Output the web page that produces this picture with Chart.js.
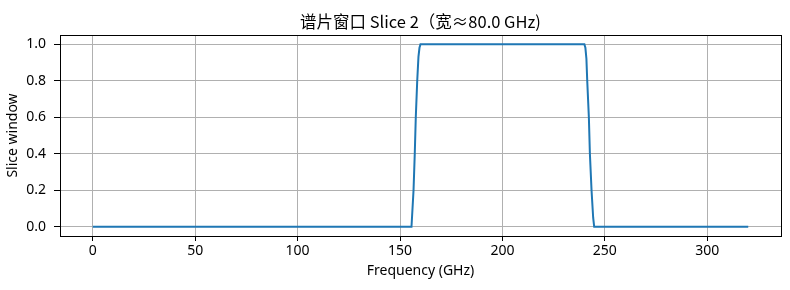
<!DOCTYPE html>
<html>
<head>
<meta charset="utf-8">
<script src="https://cdn.jsdelivr.net/npm/chart.js@4/dist/chart.umd.min.js"></script>
<style>
  html, body { margin: 0; padding: 0; background: #fff; }
  #wrap { width: 790px; height: 290px; position: relative; }
</style>
</head>
<body>
<div id="wrap"><canvas id="c" width="790" height="290"></canvas></div>
<script>
// Data
const freqGHz = [0, 155.6, 156.6, 157.2, 157.7, 158.4, 159.0, 159.5, 160.0, 240.0, 240.5, 241.0, 241.4, 242.2, 242.7, 243.5, 244.3, 244.8, 320];
const sliceWindow = [0, 0, 0.2, 0.4, 0.6, 0.8, 0.93, 0.98, 1.0, 1.0, 0.98, 0.92, 0.8, 0.6, 0.4, 0.2, 0.05, 0, 0];
const xTicks = [0, 50, 100, 150, 200, 250, 300];
const yTicks = [0.0, 0.2, 0.4, 0.6, 0.8, 1.0];
const chartTitle = '谱片窗口 Slice 2（宽≈80.0 GHz)';
const xLabel = 'Frequency (GHz)';
const yLabel = 'Slice window';

const points = freqGHz.map((f, i) => ({ x: f, y: sliceWindow[i] }));
const tickFont = { family: '"Noto Sans", "DejaVu Sans", sans-serif', size: 14 };
const labelFont = { family: '"Noto Sans", "DejaVu Sans", sans-serif', size: 14 };

const titlePlugin = {
  id: 'centeredTitle',
  afterDraw(chart) {
    const ctx = chart.ctx;
    const a = chart.chartArea;
    ctx.save();
    ctx.fillStyle = '#000000';
    ctx.font = '16.5px "Noto Sans CJK SC", "Noto Sans", sans-serif';
    ctx.textAlign = 'center';
    ctx.textBaseline = 'middle';
    ctx.fillText(chartTitle, (a.left + a.right) / 2, 22);
    ctx.restore();
  }
};

const frameAxis = (pos) => ({
  type: 'linear',
  position: pos,
  display: true,
  ticks: { display: false },
  grid: { display: true, drawOnChartArea: false, drawTicks: false },
  border: { display: true, color: '#000', width: 1 }
});

new Chart(document.getElementById('c'), {
  type: 'line',
  data: {
    datasets: [{
      data: points,
      borderColor: '#1f77b4',
      backgroundColor: '#1f77b4',
      borderWidth: 2,
      pointRadius: 0,
      tension: 0,
      fill: false
    }]
  },
  options: {
    responsive: false,
    animation: false,
    devicePixelRatio: 1,
    layout: { padding: { top: 35, right: 9, left: 0, bottom: 0 } },
    plugins: { legend: { display: false }, tooltip: { enabled: false }, title: { display: false } },
    scales: {
      x: {
        type: 'linear',
        min: -16,
        max: 336,
        afterBuildTicks: s => { s.ticks = xTicks.map(v => ({ value: v })); },
        afterFit: s => { s.height = 54; },
        ticks: { font: tickFont, color: '#000', padding: 2, maxRotation: 0, autoSkip: false,
                 callback: v => String(v) },
        grid: { color: '#b0b0b0', lineWidth: 1, drawTicks: true, tickLength: 5, tickColor: '#000' },
        border: { display: true, color: '#000', width: 1 },
        title: { display: true, text: xLabel, font: labelFont, color: '#000', padding: { top: 0, bottom: 11 } }
      },
      y: {
        type: 'linear',
        min: -0.05,
        max: 1.05,
        afterBuildTicks: s => { s.ticks = yTicks.map(v => ({ value: v })); },
        afterFit: s => { s.width = 60; },
        ticks: { font: tickFont, color: '#000', padding: 8, autoSkip: false,
                 callback: v => Number(v).toFixed(1) },
        grid: { color: '#b0b0b0', lineWidth: 1, drawTicks: true, tickLength: 6, tickColor: '#000' },
        border: { display: true, color: '#000', width: 1 },
        title: { display: true, text: yLabel, font: labelFont, color: '#000', padding: { top: 5, bottom: 0 } }
      },
      xTop: Object.assign(frameAxis('top'), { min: -16, max: 336, afterFit: s => { s.height = 0; } }),
      yRight: Object.assign(frameAxis('right'), { min: -0.05, max: 1.05, afterFit: s => { s.width = 0; } })
    }
  },
  plugins: [titlePlugin]
});
</script>
</body>
</html>
